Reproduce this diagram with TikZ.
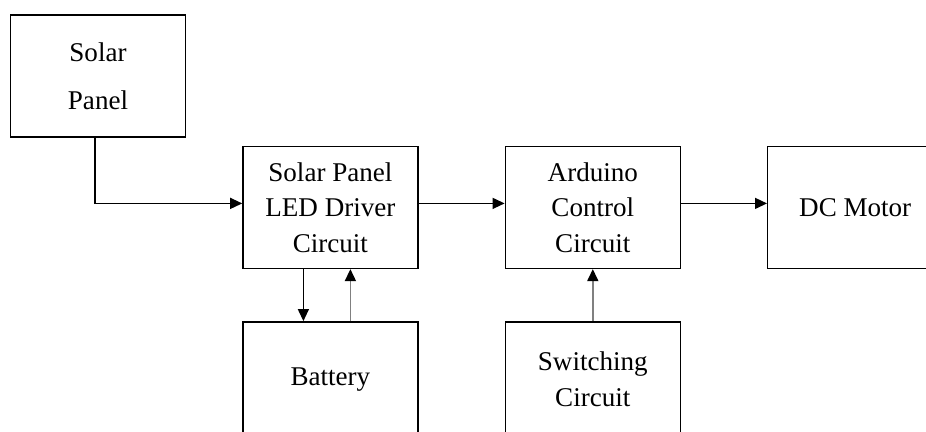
\documentclass[tikz,border=0pt]{standalone}
\usepackage{fontspec}
\setmainfont{Liberation Serif}
\usetikzlibrary{positioning,arrows.meta}
\tikzset{
    blockbox/.style={
        draw,line width=.8pt,minimum width=3.5cm,minimum height=2.44cm,align=center,
        font=\fontsize{15.4}{20.2}\selectfont
    },
    lowbox/.style={
        blockbox,minimum height=2.3cm
    },
    flowline/.style={
        line width=.75pt,-{Triangle[length=.24cm,width=.22cm,color=black]}
    },
    backline/.style={
        flowline,draw=black!50,line width=.9pt
    }
}

\begin{document}
\begin{tikzpicture}
\clip (0,0) rectangle (18.52,-8.64);
\node[blockbox] (solar) at (1.96,-1.52) {Solar\\[7pt]Panel};
\node[blockbox,below right=.16cm and 1.12cm of solar] (driver) {Solar Panel\\LED Driver\\Circuit};
\node[blockbox,right=1.72cm of driver] (arduino) {Arduino\\Control\\Circuit};
\node[blockbox,right=1.72cm of arduino] (motor) {DC Motor};
\node[lowbox,below=1.04cm of driver] (battery) {Battery};
\node[lowbox,below=1.04cm of arduino] (switching) {Switching\\Circuit};

\draw[flowline] ([xshift=-.06cm]solar.south) |- ([yshift=.08cm]driver.west);
\draw[flowline] ([yshift=.08cm]driver.east) -- ([yshift=.08cm]arduino.west);
\draw[flowline] ([yshift=.08cm]arduino.east) -- ([yshift=.08cm]motor.west);
\draw[flowline] ([xshift=-.54cm]driver.south) -- ([xshift=-.54cm]battery.north);
\draw[backline] ([xshift=.4cm]battery.north) -- ([xshift=.4cm]driver.south);
\draw[backline] (switching) -- (arduino);
\end{tikzpicture}
\end{document}
